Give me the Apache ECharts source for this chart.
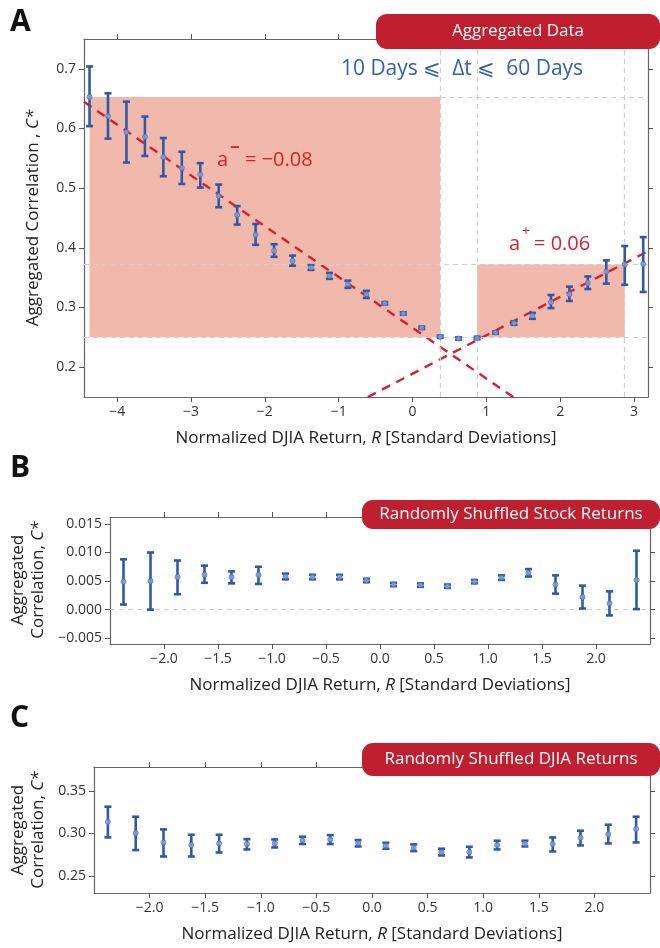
<!DOCTYPE html>
<html>
<head>
<meta charset="utf-8">
<script src="https://cdn.jsdelivr.net/npm/echarts@6/dist/echarts.min.js"></script>
<style>html,body{margin:0;padding:0;background:#fff}#c{width:660px;height:948px}</style>
</head>
<body>
<div id="c"></div>
<script>
// Panel A: aggregated data
var rA = [-4.375,-4.125,-3.875,-3.625,-3.375,-3.125,-2.875,-2.625,-2.375,-2.125,-1.875,-1.625,-1.375,-1.125,-0.875,-0.625,-0.375,-0.125,0.125,0.375,0.625,0.875,1.125,1.375,1.625,1.875,2.125,2.375,2.625,2.875,3.125];
var cA = [0.653,0.621,0.594,0.586,0.552,0.534,0.523,0.487,0.455,0.422,0.395,0.378,0.367,0.353,0.339,0.322,0.307,0.290,0.266,0.251,0.248,0.249,0.258,0.274,0.286,0.309,0.322,0.341,0.360,0.372,0.373];
var loA = [0.604,0.583,0.543,0.554,0.520,0.507,0.501,0.468,0.439,0.405,0.385,0.370,0.363,0.348,0.333,0.316,0.305,0.288,0.264,0.249,0.246,0.247,0.256,0.271,0.281,0.299,0.311,0.331,0.340,0.338,0.326];
var hiA = [0.704,0.659,0.645,0.620,0.584,0.561,0.542,0.506,0.470,0.440,0.406,0.387,0.371,0.358,0.345,0.328,0.309,0.292,0.268,0.253,0.250,0.251,0.260,0.277,0.291,0.321,0.335,0.352,0.379,0.403,0.418];
// fit lines [slope, intercept]
var fitMinus = [-0.0851, 0.266];
var fitPlus = [0.0644, 0.189];
var xTicksA = [-4,-3,-2,-1,0,1,2,3];
var yTicksA = [0.2,0.3,0.4,0.5,0.6,0.7];

// Panel B: shuffled stock returns
var rB = [-2.375,-2.125,-1.875,-1.625,-1.375,-1.125,-0.875,-0.625,-0.375,-0.125,0.125,0.375,0.625,0.875,1.125,1.375,1.625,1.875,2.125,2.375];
var cB = [0.0049,0.0050,0.0057,0.0061,0.0057,0.0061,0.0058,0.0057,0.0057,0.0051,0.0044,0.0043,0.0041,0.0049,0.0056,0.0064,0.0044,0.0022,0.0011,0.0052];
var loB = [0.0009,0.0000,0.0027,0.0047,0.0046,0.0045,0.0053,0.0053,0.0053,0.0048,0.0041,0.0040,0.0038,0.0046,0.0052,0.0058,0.0028,0.0002,-0.0010,0.0001];
var hiB = [0.0088,0.0100,0.0086,0.0077,0.0067,0.0075,0.0063,0.0061,0.0061,0.0054,0.0047,0.0046,0.0044,0.0052,0.0060,0.0071,0.0060,0.0042,0.0032,0.0103];
var yTicksB = [-0.005,0,0.005,0.010,0.015];

// Panel C: shuffled DJIA returns
var cC = [0.3137,0.3004,0.2894,0.2863,0.2882,0.2875,0.2882,0.2918,0.2929,0.2886,0.2855,0.2831,0.2780,0.2780,0.2863,0.2878,0.2875,0.2949,0.2992,0.3051];
var loC = [0.2953,0.2804,0.2729,0.2729,0.2776,0.2812,0.2835,0.2875,0.2875,0.2847,0.2820,0.2792,0.2741,0.2718,0.2812,0.2847,0.2788,0.2859,0.2882,0.2894];
var hiC = [0.3314,0.3196,0.3047,0.2984,0.2984,0.2933,0.2929,0.2961,0.2980,0.2922,0.2890,0.2871,0.2820,0.2843,0.2914,0.2914,0.2953,0.3031,0.3102,0.3196];
var yTicksC = [0.25,0.30,0.35];
var xTicksBC = [-2.0,-1.5,-1.0,-0.5,0.0,0.5,1.0,1.5,2.0];

// shaded boxes and guides in A
var boxL = [-4.375, 0.25, 0.375, 0.653];
var boxR = [0.875, 0.25, 2.875, 0.372];
var vGuides = [0.375, 0.875, 2.875];

var BLUE = '#2f59a8', RED = '#d7202e', BADGE = '#c01f30';
var FONT = '"Open Sans", "Noto Sans", sans-serif';

function fmt(v, d) {
  var s = Math.abs(v).toFixed(d);
  return (v < 0 ? '\u2212' : '') + s;
}

function zip(x, a, b) {
  return x.map(function (v, i) { return b ? [v, a[i], b[i]] : [v, a[i]]; });
}

function errSeries(idx, data) {
  return {
    type: 'custom', xAxisIndex: idx, yAxisIndex: idx, z: 5,
    dimensions: ['x', 'lo', 'hi'],
    encode: { x: 0, y: [1, 2] },
    data: data,
    renderItem: function (params, api) {
      var x = api.value(0);
      var lo = api.coord([x, api.value(1)]);
      var hi = api.coord([x, api.value(2)]);
      var w = 3.5;
      var st = { stroke: BLUE, lineWidth: 2.6 };
      return { type: 'group', children: [
        { type: 'line', shape: { x1: lo[0], y1: lo[1], x2: hi[0], y2: hi[1] }, style: st },
        { type: 'line', shape: { x1: lo[0] - w, y1: lo[1], x2: lo[0] + w, y2: lo[1] }, style: st },
        { type: 'line', shape: { x1: hi[0] - w, y1: hi[1], x2: hi[0] + w, y2: hi[1] }, style: st }
      ] };
    }
  };
}

function ptSeries(idx, data) {
  return {
    type: 'scatter', xAxisIndex: idx, yAxisIndex: idx, z: 6,
    symbol: 'circle', symbolSize: 5, data: data,
    itemStyle: { color: '#8aa6dc', borderColor: '#4a70bb', borderWidth: 1 }
  };
}

function xAxisBase(g, min, max, ticks, dec, name, pos) {
  var top = pos === 'top';
  return {
    type: 'value', gridIndex: g, min: min, max: max, position: pos,
    name: top ? '' : name, nameLocation: 'middle', nameGap: 33,
    nameTextStyle: { fontFamily: FONT, fontSize: 17, color: '#222', rich: {
      n: { fontFamily: FONT, fontSize: 17, color: '#222' },
      i: { fontStyle: 'italic', fontFamily: FONT, fontSize: 17, color: '#222' } } },
    axisLine: { show: true, onZero: false, lineStyle: { color: '#666', width: 1.2 } },
    axisTick: { show: true, length: 5, customValues: ticks, lineStyle: { color: '#555' } },
    axisLabel: { show: !top, customValues: ticks, formatter: function (v) { return fmt(v, dec); }, fontFamily: FONT, fontSize: 14, color: '#333', margin: 8 },
    splitLine: { show: false }
  };
}

function yAxisBase(g, min, max, ticks, dec, pos) {
  var right = pos === 'right';
  return {
    type: 'value', gridIndex: g, min: min, max: max, position: pos,
    axisLine: { show: true, onZero: false, lineStyle: { color: '#666', width: 1.2 } },
    axisTick: { show: true, length: 5, customValues: ticks, lineStyle: { color: '#555' } },
    axisLabel: { show: !right, customValues: ticks, formatter: function (v) { return fmt(v, dec); }, fontFamily: FONT, fontSize: 14, color: '#333', margin: 8 },
    splitLine: { show: false }
  };
}

var xName = '{n|Normalized DJIA Return, }{i|R}{n| [Standard Deviations]}';
var xA = [-4.45, 3.19], yA = [0.15, 0.75];

function fitLine(f) {
  return [[xA[0], f[1] + f[0] * xA[0]], [xA[1], f[1] + f[0] * xA[1]]];
}

var guideStyle = { color: '#cfcfcf', type: [5, 4], width: 1.2 };
var guideLines = vGuides.map(function (v) { return [{ coord: [v, yA[0]] }, { coord: [v, yA[1]] }]; });
guideLines.push([{ coord: [boxL[2], boxL[3]] }, { coord: [xA[1], boxL[3]] }]);
guideLines.push([{ coord: [xA[0], boxR[3]] }, { coord: [xA[1], boxR[3]] }]);
guideLines.push([{ coord: [xA[0], boxR[1]] }, { coord: [xA[1], boxR[1]] }]);

function badge(x, y, w, h, text) {
  return { type: 'group', z: 100, children: [
    { type: 'rect', z: 100, shape: { x: x, y: y, width: w, height: h, r: 11 }, style: { fill: BADGE } },
    { type: 'text', z: 101, x: x + w / 2, y: y + h / 2, style: { text: text, fill: '#fff', font: '17px ' + FONT, align: 'center', verticalAlign: 'middle' } }
  ] };
}

function plainText(x, y, t, size, color, opt) {
  var s = { text: t, fill: color, font: (opt && opt.bold ? 'bold ' : '') + size + 'px ' + FONT, align: (opt && opt.align) || 'left', verticalAlign: 'middle' };
  return { type: 'text', z: 100, x: x, y: y, style: s };
}

var richY = { n: { font: '17px ' + FONT, fill: '#222' }, i: { font: 'italic 17px ' + FONT, fill: '#222' } };
function yName(x, y, t) {
  return { type: 'text', z: 100, x: x, y: y, rotation: Math.PI / 2, style: { text: t, align: 'center', verticalAlign: 'middle', font: '17px ' + FONT, fill: '#222', rich: richY } };
}

var chart = echarts.init(document.getElementById('c'));
chart.setOption({
  animation: false,
  grid: [
    { left: 84, top: 39, width: 564, height: 358 },
    { left: 110, top: 517, width: 540, height: 127 },
    { left: 94, top: 767, width: 556, height: 126 }
  ],
  xAxis: [
    xAxisBase(0, xA[0], xA[1], xTicksA, 0, xName, 'bottom'),
    xAxisBase(1, -2.5, 2.5, xTicksBC, 1, xName, 'bottom'),
    xAxisBase(2, -2.5, 2.5, xTicksBC, 1, xName, 'bottom'),
    xAxisBase(0, xA[0], xA[1], xTicksA, 0, '', 'top'),
    xAxisBase(1, -2.5, 2.5, xTicksBC, 1, '', 'top'),
    xAxisBase(2, -2.5, 2.5, xTicksBC, 1, '', 'top')
  ],
  yAxis: [
    yAxisBase(0, yA[0], yA[1], yTicksA, 1, 'left'),
    yAxisBase(1, -0.006, 0.0162, yTicksB, 3, 'left'),
    yAxisBase(2, 0.23, 0.378, yTicksC, 2, 'left'),
    yAxisBase(0, yA[0], yA[1], yTicksA, 1, 'right'),
    yAxisBase(1, -0.006, 0.0162, yTicksB, 3, 'right'),
    yAxisBase(2, 0.23, 0.378, yTicksC, 2, 'right')
  ],
  series: [
    {
      type: 'line', xAxisIndex: 0, yAxisIndex: 0, data: [], z: 1,
      markArea: { silent: true, itemStyle: { color: '#f0b9ac' }, data: [
        [{ coord: [boxL[0], boxL[1]] }, { coord: [boxL[2], boxL[3]] }],
        [{ coord: [boxR[0], boxR[1]] }, { coord: [boxR[2], boxR[3]] }]
      ] },
      markLine: { silent: true, symbol: 'none', label: { show: false }, lineStyle: guideStyle, data: guideLines }
    },
    { type: 'line', xAxisIndex: 0, yAxisIndex: 0, data: fitLine(fitMinus), showSymbol: false, clip: true, z: 3,
      lineStyle: { color: RED, width: 2.4, type: [9, 7] } },
    { type: 'line', xAxisIndex: 0, yAxisIndex: 0, data: fitLine(fitPlus), showSymbol: false, clip: true, z: 3,
      lineStyle: { color: RED, width: 2.4, type: [9, 7] } },
    errSeries(0, zip(rA, loA, hiA)),
    ptSeries(0, zip(rA, cA)),
    {
      type: 'line', xAxisIndex: 1, yAxisIndex: 1, data: [],
      markLine: { silent: true, symbol: 'none', label: { show: false }, lineStyle: guideStyle,
        data: [[{ coord: [-2.5, 0] }, { coord: [2.5, 0] }]] }
    },
    errSeries(1, zip(rB, loB, hiB)),
    ptSeries(1, zip(rB, cB)),
    errSeries(2, zip(rB, loC, hiC)),
    ptSeries(2, zip(rB, cC))
  ],
  graphic: [
    plainText(10, 22, 'A', 30, '#111', { bold: true }),
    plainText(10, 468, 'B', 30, '#111', { bold: true }),
    plainText(10, 718, 'C', 30, '#111', { bold: true }),
    badge(376, 14, 284, 35, 'Aggregated Data'),
    badge(362, 500, 298, 29, 'Randomly Shuffled Stock Returns'),
    badge(362, 743, 298, 33, 'Randomly Shuffled DJIA Returns'),
    plainText(462, 69, '10 Days \u2A7D  \u0394t \u2A7D  60 Days', 21, '#3460ad', { align: 'center' }),
    plainText(217, 160, 'a', 20, RED),
    plainText(230, 148, '\u2212', 17, RED, { bold: true }),
    plainText(245, 160, '= \u22120.08', 20, RED),
    plainText(509, 244, 'a', 20, RED),
    plainText(522, 232, '+', 14, RED),
    plainText(534, 244, '= 0.06', 20, RED),
    yName(33, 218, '{n|Aggregated Correlation , }{i|C*}'),
    yName(18, 580, 'Aggregated'),
    yName(38, 580, '{n|Correlation, }{i|C*}'),
    yName(18, 830, 'Aggregated'),
    yName(38, 830, '{n|Correlation, }{i|C*}')
  ]
});
</script>
</body>
</html>
